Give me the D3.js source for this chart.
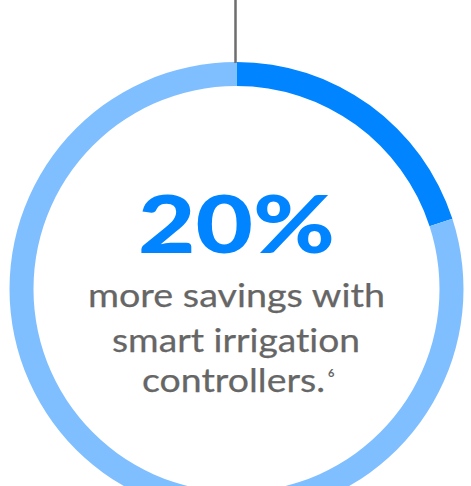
<!DOCTYPE html>
<html>
<head>
<meta charset="utf-8">
<script src="https://cdn.jsdelivr.net/npm/d3@7"></script>
<style>
  html, body { margin: 0; padding: 0; background: #fff; }
  svg { display: block; }
  text { font-variant-ligatures: none; font-feature-settings: "liga" 0, "clig" 0; }
</style>
</head>
<body>
<svg id="chart" width="471" height="486"></svg>
<script>
const categories = ["Smart irrigation savings", "Remainder"];
const values = [20, 80];
const colors = ["#0084ff", "#80bfff"];
const headline = "20%";
const bodyLines = ["more savings with", "smart irrigation", "controllers."];
const footnote = "6";

const svg = d3.select("#chart");
const cx = 236.5, cy = 289, outerR = 227, innerR = 203;

const g = svg.append("g").attr("transform", `translate(${cx},${cy})`);

const pie = d3.pie().sort(null).value(d => d)(values);
const arc = d3.arc().innerRadius(innerR).outerRadius(outerR);

g.selectAll("path.seg")
  .data(pie)
  .join("path")
  .attr("class", "seg")
  .attr("d", arc)
  .attr("fill", (d, i) => colors[i]);

// leader line from top
svg.append("line")
  .attr("x1", 235.5).attr("x2", 235.5)
  .attr("y1", 0).attr("y2", cy - outerR + 1)
  .attr("stroke", "#6e6e6e")
  .attr("stroke-width", 2.5);

const font = "Lato, Inter, 'Open Sans', sans-serif";

// headline
svg.append("text")
  .attr("x", cx).attr("y", 253)
  .attr("text-anchor", "middle")
  .attr("font-family", font)
  .attr("font-weight", 900)
  .attr("font-size", 80)
  .attr("fill", colors[0])
  .attr("textLength", 197)
  .attr("lengthAdjust", "spacingAndGlyphs")
  .text(headline);

const baselines = [307, 352, 392];
const starts = [88, 112, 142];
const widths = [297, 248, 183];
bodyLines.forEach((t, i) => {
  svg.append("text")
    .attr("x", starts[i])
    .attr("y", baselines[i])
    .attr("font-family", font)
    .attr("font-weight", 400)
    .attr("font-size", 33)
    .attr("fill", "#666666")
    .attr("stroke", "#666666")
    .attr("stroke-width", 0.25)
    .attr("textLength", widths[i])
    .attr("lengthAdjust", "spacingAndGlyphs")
    .text(t);
});

svg.append("text")
  .attr("x", 328).attr("y", 377)
  .attr("font-family", font)
  .attr("font-weight", 700)
  .attr("font-size", 11)
  .attr("fill", "#666666")
  .text(footnote);
</script>
</body>
</html>
